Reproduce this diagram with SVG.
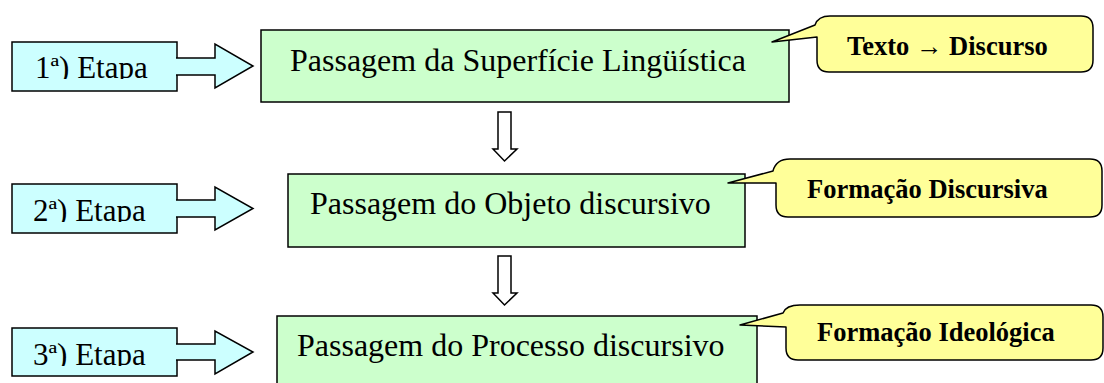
<svg xmlns="http://www.w3.org/2000/svg" width="1104" height="383" viewBox="0 0 1104 383">
<style>
.stage{fill:#CCFFFF;stroke:#000;stroke-width:1.5}
.pass{fill:#CCFFCC;stroke:#000;stroke-width:1.5}
.call{fill:#FFFF99;stroke:#000;stroke-width:1.5;stroke-linejoin:round}
.barrow{fill:#CCFFFF;stroke:#000;stroke-width:1.5;stroke-linejoin:miter}
.darrow{fill:#FFFFFF;stroke:#000;stroke-width:1.5}
.st{font-family:"Liberation Serif","Times New Roman",serif;font-size:31px;fill:#000}
.pt{font-family:"Liberation Serif","Times New Roman",serif;font-size:32px;fill:#000}
.ct{font-family:"Liberation Serif","Times New Roman",serif;font-size:26.5px;font-weight:bold;fill:#000}
</style>
<defs>
<clipPath id="c1"><rect x="12" y="42" width="165" height="37"/></clipPath>
<clipPath id="c2"><rect x="12" y="184" width="165" height="38"/></clipPath>
<clipPath id="c3"><rect x="12" y="328" width="165" height="38"/></clipPath>
</defs>

<g id="stage1">
<rect class="stage" x="12" y="42" width="165" height="49"/>
<text class="st" x="35" y="78" clip-path="url(#c1)">1ª) Etapa</text>
</g>
<g id="stage2">
<rect class="stage" x="12" y="184" width="165" height="49"/>
<text class="st" x="33" y="221" clip-path="url(#c2)">2ª) Etapa</text>
</g>
<g id="stage3">
<rect class="stage" x="12" y="328" width="165" height="48"/>
<text class="st" x="33" y="365" clip-path="url(#c3)">3ª) Etapa</text>
</g>

<g id="step1">
<rect class="pass" x="261" y="30" width="528" height="72"/>
<text class="pt" x="290" y="71">Passagem da Superfície Lingüística</text>
</g>
<g id="step2">
<rect class="pass" x="288" y="174" width="457" height="73"/>
<text class="pt" x="310" y="214">Passagem do Objeto discursivo</text>
</g>
<g id="step3">
<rect class="pass" x="277" y="316" width="480" height="70"/>
<text class="pt" x="297" y="356">Passagem do Processo discursivo</text>
</g>

<g id="note1">
<path class="call" d="M 830,16 H 1081 Q 1093,16 1093,28 V 60 Q 1093,72 1081,72 H 829 Q 817,72 817,60 V 37 L 772,42 L 815,25 Q 818,16 830,16 Z"/>
<text class="ct" x="847" y="55">Texto → Discurso</text>
</g>
<g id="note2">
<path class="call" d="M 790,159 H 1090 Q 1102,159 1102,171 V 205 Q 1102,217 1090,217 H 788 Q 776,217 776,205 V 183 L 728,183 L 773,171 Q 776,159 790,159 Z"/>
<text class="ct" x="807" y="198">Formação Discursiva</text>
</g>
<g id="note3">
<path class="call" d="M 800,305 H 1091 Q 1103,305 1103,317 V 348 Q 1103,360 1091,360 H 798 Q 786,360 786,348 V 327 L 740,325 L 783,313 Q 786,305 800,305 Z"/>
<text class="ct" x="817" y="341">Formação Ideológica</text>
</g>

<g id="connectors">
<path class="barrow" d="M 176,58 H 215 V 44 L 253,66 L 215,88 V 75 H 176"/>
<path class="barrow" d="M 176,200 H 215 V 187 L 253,208.5 L 215,230 V 217 H 176"/>
<path class="barrow" d="M 176,344 H 215 V 331 L 253,352 L 215,374 V 360 H 176"/>
<path class="darrow" d="M 498,112 H 511 V 149 H 517 L 504.5,161 L 493,149 H 498 Z"/>
<path class="darrow" d="M 498,256 H 511 V 293 H 517 L 504.5,305 L 493,293 H 498 Z"/>
</g>
</svg>
